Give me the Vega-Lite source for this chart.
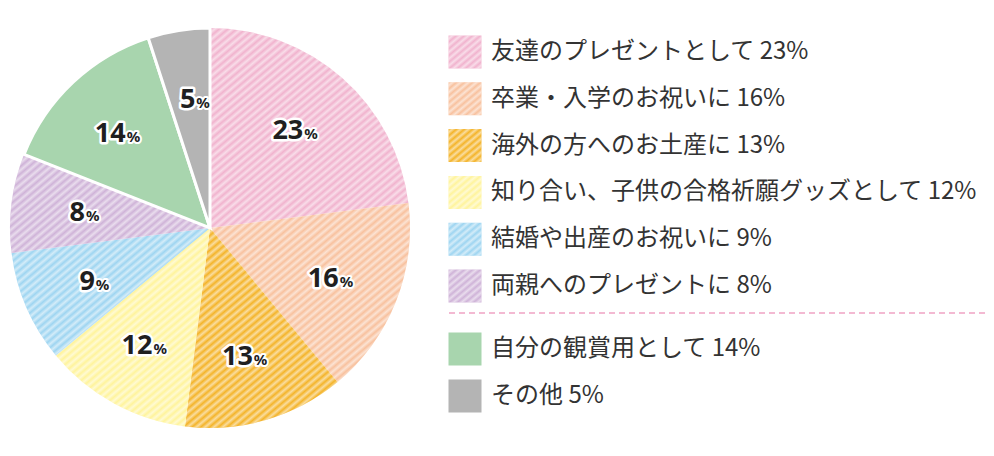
{
  "$schema": "https://vega.github.io/schema/vega-lite/v6.json",
  "padding": 0,
  "background": "white",
  "config": {"view": {"stroke": null}, "font": "Noto Sans CJK JP"},
  "data": {"values": [
    {"idx": 1, "cat": "友達のプレゼントとして", "label": "友達のプレゼントとして 23%", "pct": 23, "group": "gift"},
    {"idx": 2, "cat": "卒業・入学のお祝いに", "label": "卒業・入学のお祝いに 16%", "pct": 16, "group": "gift"},
    {"idx": 3, "cat": "海外の方へのお土産に", "label": "海外の方へのお土産に 13%", "pct": 13, "group": "gift"},
    {"idx": 4, "cat": "知り合い、子供の合格祈願グッズとして", "label": "知り合い、子供の合格祈願グッズとして 12%", "pct": 12, "group": "gift"},
    {"idx": 5, "cat": "結婚や出産のお祝いに", "label": "結婚や出産のお祝いに 9%", "pct": 9, "group": "gift"},
    {"idx": 6, "cat": "両親へのプレゼントに", "label": "両親へのプレゼントに 8%", "pct": 8, "group": "gift"},
    {"idx": 7, "cat": "自分の観賞用として", "label": "自分の観賞用として 14%", "pct": 14, "group": "self"},
    {"idx": 8, "cat": "その他", "label": "その他 5%", "pct": 5, "group": "self"}
  ]},
  "spacing": 28,
  "hconcat": [
    {
      "width": 420,
      "height": 456,
      "layer": [
        {
          "mark": {"type": "arc", "outerRadius": 200, "stroke": "white"},
          "encoding": {
            "theta": {"field": "pct", "type": "quantitative", "stack": true},
            "order": {"field": "idx", "type": "quantitative"},
            "color": {
              "field": "cat", "type": "nominal", "legend": null,
              "scale": {
                "domain": ["友達のプレゼントとして", "卒業・入学のお祝いに", "海外の方へのお土産に", "知り合い、子供の合格祈願グッズとして", "結婚や出産のお祝いに", "両親へのプレゼントに", "自分の観賞用として", "その他"],
                "range": ["#F1B3CE", "#F8C19E", "#F4B42A", "#FFF49C", "#9ED5F1", "#CFB3D8", "#A8D5AE", "#B4B4B4"]
              }
            },
            "strokeWidth": {"condition": {"test": "datum.group === 'self'", "value": 3}, "value": 0}
          }
        },
        {
          "transform": [
            {"filter": "datum.group === 'gift'"},
            {"aggregate": [{"op": "sum", "field": "pct", "as": "tot"}]}
          ],
          "mark": {"type": "arc", "outerRadius": 200, "fill": {"gradient": "linear", "x1": 0, "y1": 0, "x2": 0.906, "y2": 1.079, "stops": [
            {"offset":0,"color":"rgba(255,255,255,0)"},{"offset":0.005,"color":"rgba(255,255,255,0.55)"},
            {"offset":0.01,"color":"rgba(255,255,255,0)"},{"offset":0.015,"color":"rgba(255,255,255,0.55)"},
            {"offset":0.02,"color":"rgba(255,255,255,0)"},{"offset":0.025,"color":"rgba(255,255,255,0.55)"},
            {"offset":0.03,"color":"rgba(255,255,255,0)"},{"offset":0.035,"color":"rgba(255,255,255,0.55)"},
            {"offset":0.04,"color":"rgba(255,255,255,0)"},{"offset":0.045,"color":"rgba(255,255,255,0.55)"},
            {"offset":0.05,"color":"rgba(255,255,255,0)"},{"offset":0.055,"color":"rgba(255,255,255,0.55)"},
            {"offset":0.06,"color":"rgba(255,255,255,0)"},{"offset":0.065,"color":"rgba(255,255,255,0.55)"},
            {"offset":0.07,"color":"rgba(255,255,255,0)"},{"offset":0.075,"color":"rgba(255,255,255,0.55)"},
            {"offset":0.08,"color":"rgba(255,255,255,0)"},{"offset":0.085,"color":"rgba(255,255,255,0.55)"},
            {"offset":0.09,"color":"rgba(255,255,255,0)"},{"offset":0.095,"color":"rgba(255,255,255,0.55)"},
            {"offset":0.1,"color":"rgba(255,255,255,0)"},{"offset":0.105,"color":"rgba(255,255,255,0.55)"},
            {"offset":0.11,"color":"rgba(255,255,255,0)"},{"offset":0.115,"color":"rgba(255,255,255,0.55)"},
            {"offset":0.12,"color":"rgba(255,255,255,0)"},{"offset":0.125,"color":"rgba(255,255,255,0.55)"},
            {"offset":0.13,"color":"rgba(255,255,255,0)"},{"offset":0.135,"color":"rgba(255,255,255,0.55)"},
            {"offset":0.14,"color":"rgba(255,255,255,0)"},{"offset":0.145,"color":"rgba(255,255,255,0.55)"},
            {"offset":0.15,"color":"rgba(255,255,255,0)"},{"offset":0.155,"color":"rgba(255,255,255,0.55)"},
            {"offset":0.16,"color":"rgba(255,255,255,0)"},{"offset":0.165,"color":"rgba(255,255,255,0.55)"},
            {"offset":0.17,"color":"rgba(255,255,255,0)"},{"offset":0.175,"color":"rgba(255,255,255,0.55)"},
            {"offset":0.18,"color":"rgba(255,255,255,0)"},{"offset":0.185,"color":"rgba(255,255,255,0.55)"},
            {"offset":0.19,"color":"rgba(255,255,255,0)"},{"offset":0.195,"color":"rgba(255,255,255,0.55)"},
            {"offset":0.2,"color":"rgba(255,255,255,0)"},{"offset":0.205,"color":"rgba(255,255,255,0.55)"},
            {"offset":0.21,"color":"rgba(255,255,255,0)"},{"offset":0.215,"color":"rgba(255,255,255,0.55)"},
            {"offset":0.22,"color":"rgba(255,255,255,0)"},{"offset":0.225,"color":"rgba(255,255,255,0.55)"},
            {"offset":0.23,"color":"rgba(255,255,255,0)"},{"offset":0.235,"color":"rgba(255,255,255,0.55)"},
            {"offset":0.24,"color":"rgba(255,255,255,0)"},{"offset":0.245,"color":"rgba(255,255,255,0.55)"},
            {"offset":0.25,"color":"rgba(255,255,255,0)"},{"offset":0.255,"color":"rgba(255,255,255,0.55)"},
            {"offset":0.26,"color":"rgba(255,255,255,0)"},{"offset":0.265,"color":"rgba(255,255,255,0.55)"},
            {"offset":0.27,"color":"rgba(255,255,255,0)"},{"offset":0.275,"color":"rgba(255,255,255,0.55)"},
            {"offset":0.28,"color":"rgba(255,255,255,0)"},{"offset":0.285,"color":"rgba(255,255,255,0.55)"},
            {"offset":0.29,"color":"rgba(255,255,255,0)"},{"offset":0.295,"color":"rgba(255,255,255,0.55)"},
            {"offset":0.3,"color":"rgba(255,255,255,0)"},{"offset":0.305,"color":"rgba(255,255,255,0.55)"},
            {"offset":0.31,"color":"rgba(255,255,255,0)"},{"offset":0.315,"color":"rgba(255,255,255,0.55)"},
            {"offset":0.32,"color":"rgba(255,255,255,0)"},{"offset":0.325,"color":"rgba(255,255,255,0.55)"},
            {"offset":0.33,"color":"rgba(255,255,255,0)"},{"offset":0.335,"color":"rgba(255,255,255,0.55)"},
            {"offset":0.34,"color":"rgba(255,255,255,0)"},{"offset":0.345,"color":"rgba(255,255,255,0.55)"},
            {"offset":0.35,"color":"rgba(255,255,255,0)"},{"offset":0.355,"color":"rgba(255,255,255,0.55)"},
            {"offset":0.36,"color":"rgba(255,255,255,0)"},{"offset":0.365,"color":"rgba(255,255,255,0.55)"},
            {"offset":0.37,"color":"rgba(255,255,255,0)"},{"offset":0.375,"color":"rgba(255,255,255,0.55)"},
            {"offset":0.38,"color":"rgba(255,255,255,0)"},{"offset":0.385,"color":"rgba(255,255,255,0.55)"},
            {"offset":0.39,"color":"rgba(255,255,255,0)"},{"offset":0.395,"color":"rgba(255,255,255,0.55)"},
            {"offset":0.4,"color":"rgba(255,255,255,0)"},{"offset":0.405,"color":"rgba(255,255,255,0.55)"},
            {"offset":0.41,"color":"rgba(255,255,255,0)"},{"offset":0.415,"color":"rgba(255,255,255,0.55)"},
            {"offset":0.42,"color":"rgba(255,255,255,0)"},{"offset":0.425,"color":"rgba(255,255,255,0.55)"},
            {"offset":0.43,"color":"rgba(255,255,255,0)"},{"offset":0.435,"color":"rgba(255,255,255,0.55)"},
            {"offset":0.44,"color":"rgba(255,255,255,0)"},{"offset":0.445,"color":"rgba(255,255,255,0.55)"},
            {"offset":0.45,"color":"rgba(255,255,255,0)"},{"offset":0.455,"color":"rgba(255,255,255,0.55)"},
            {"offset":0.46,"color":"rgba(255,255,255,0)"},{"offset":0.465,"color":"rgba(255,255,255,0.55)"},
            {"offset":0.47,"color":"rgba(255,255,255,0)"},{"offset":0.475,"color":"rgba(255,255,255,0.55)"},
            {"offset":0.48,"color":"rgba(255,255,255,0)"},{"offset":0.485,"color":"rgba(255,255,255,0.55)"},
            {"offset":0.49,"color":"rgba(255,255,255,0)"},{"offset":0.495,"color":"rgba(255,255,255,0.55)"},
            {"offset":0.5,"color":"rgba(255,255,255,0)"},{"offset":0.505,"color":"rgba(255,255,255,0.55)"},
            {"offset":0.51,"color":"rgba(255,255,255,0)"},{"offset":0.515,"color":"rgba(255,255,255,0.55)"},
            {"offset":0.52,"color":"rgba(255,255,255,0)"},{"offset":0.525,"color":"rgba(255,255,255,0.55)"},
            {"offset":0.53,"color":"rgba(255,255,255,0)"},{"offset":0.535,"color":"rgba(255,255,255,0.55)"},
            {"offset":0.54,"color":"rgba(255,255,255,0)"},{"offset":0.545,"color":"rgba(255,255,255,0.55)"},
            {"offset":0.55,"color":"rgba(255,255,255,0)"},{"offset":0.555,"color":"rgba(255,255,255,0.55)"},
            {"offset":0.56,"color":"rgba(255,255,255,0)"},{"offset":0.565,"color":"rgba(255,255,255,0.55)"},
            {"offset":0.57,"color":"rgba(255,255,255,0)"},{"offset":0.575,"color":"rgba(255,255,255,0.55)"},
            {"offset":0.58,"color":"rgba(255,255,255,0)"},{"offset":0.585,"color":"rgba(255,255,255,0.55)"},
            {"offset":0.59,"color":"rgba(255,255,255,0)"},{"offset":0.595,"color":"rgba(255,255,255,0.55)"},
            {"offset":0.6,"color":"rgba(255,255,255,0)"},{"offset":0.605,"color":"rgba(255,255,255,0.55)"},
            {"offset":0.61,"color":"rgba(255,255,255,0)"},{"offset":0.615,"color":"rgba(255,255,255,0.55)"},
            {"offset":0.62,"color":"rgba(255,255,255,0)"},{"offset":0.625,"color":"rgba(255,255,255,0.55)"},
            {"offset":0.63,"color":"rgba(255,255,255,0)"},{"offset":0.635,"color":"rgba(255,255,255,0.55)"},
            {"offset":0.64,"color":"rgba(255,255,255,0)"},{"offset":0.645,"color":"rgba(255,255,255,0.55)"},
            {"offset":0.65,"color":"rgba(255,255,255,0)"},{"offset":0.655,"color":"rgba(255,255,255,0.55)"},
            {"offset":0.66,"color":"rgba(255,255,255,0)"},{"offset":0.665,"color":"rgba(255,255,255,0.55)"},
            {"offset":0.67,"color":"rgba(255,255,255,0)"},{"offset":0.675,"color":"rgba(255,255,255,0.55)"},
            {"offset":0.68,"color":"rgba(255,255,255,0)"},{"offset":0.685,"color":"rgba(255,255,255,0.55)"},
            {"offset":0.69,"color":"rgba(255,255,255,0)"},{"offset":0.695,"color":"rgba(255,255,255,0.55)"},
            {"offset":0.7,"color":"rgba(255,255,255,0)"},{"offset":0.705,"color":"rgba(255,255,255,0.55)"},
            {"offset":0.71,"color":"rgba(255,255,255,0)"},{"offset":0.715,"color":"rgba(255,255,255,0.55)"},
            {"offset":0.72,"color":"rgba(255,255,255,0)"},{"offset":0.725,"color":"rgba(255,255,255,0.55)"},
            {"offset":0.73,"color":"rgba(255,255,255,0)"},{"offset":0.735,"color":"rgba(255,255,255,0.55)"},
            {"offset":0.74,"color":"rgba(255,255,255,0)"},{"offset":0.745,"color":"rgba(255,255,255,0.55)"},
            {"offset":0.75,"color":"rgba(255,255,255,0)"},{"offset":0.755,"color":"rgba(255,255,255,0.55)"},
            {"offset":0.76,"color":"rgba(255,255,255,0)"},{"offset":0.765,"color":"rgba(255,255,255,0.55)"},
            {"offset":0.77,"color":"rgba(255,255,255,0)"},{"offset":0.775,"color":"rgba(255,255,255,0.55)"},
            {"offset":0.78,"color":"rgba(255,255,255,0)"},{"offset":0.785,"color":"rgba(255,255,255,0.55)"},
            {"offset":0.79,"color":"rgba(255,255,255,0)"},{"offset":0.795,"color":"rgba(255,255,255,0.55)"},
            {"offset":0.8,"color":"rgba(255,255,255,0)"},{"offset":0.805,"color":"rgba(255,255,255,0.55)"},
            {"offset":0.81,"color":"rgba(255,255,255,0)"},{"offset":0.815,"color":"rgba(255,255,255,0.55)"},
            {"offset":0.82,"color":"rgba(255,255,255,0)"},{"offset":0.825,"color":"rgba(255,255,255,0.55)"},
            {"offset":0.83,"color":"rgba(255,255,255,0)"},{"offset":0.835,"color":"rgba(255,255,255,0.55)"},
            {"offset":0.84,"color":"rgba(255,255,255,0)"},{"offset":0.845,"color":"rgba(255,255,255,0.55)"},
            {"offset":0.85,"color":"rgba(255,255,255,0)"},{"offset":0.855,"color":"rgba(255,255,255,0.55)"},
            {"offset":0.86,"color":"rgba(255,255,255,0)"},{"offset":0.865,"color":"rgba(255,255,255,0.55)"},
            {"offset":0.87,"color":"rgba(255,255,255,0)"},{"offset":0.875,"color":"rgba(255,255,255,0.55)"},
            {"offset":0.88,"color":"rgba(255,255,255,0)"},{"offset":0.885,"color":"rgba(255,255,255,0.55)"},
            {"offset":0.89,"color":"rgba(255,255,255,0)"},{"offset":0.895,"color":"rgba(255,255,255,0.55)"},
            {"offset":0.9,"color":"rgba(255,255,255,0)"},{"offset":0.905,"color":"rgba(255,255,255,0.55)"},
            {"offset":0.91,"color":"rgba(255,255,255,0)"},{"offset":0.915,"color":"rgba(255,255,255,0.55)"},
            {"offset":0.92,"color":"rgba(255,255,255,0)"},{"offset":0.925,"color":"rgba(255,255,255,0.55)"},
            {"offset":0.93,"color":"rgba(255,255,255,0)"},{"offset":0.935,"color":"rgba(255,255,255,0.55)"},
            {"offset":0.94,"color":"rgba(255,255,255,0)"},{"offset":0.945,"color":"rgba(255,255,255,0.55)"},
            {"offset":0.95,"color":"rgba(255,255,255,0)"},{"offset":0.955,"color":"rgba(255,255,255,0.55)"},
            {"offset":0.96,"color":"rgba(255,255,255,0)"},{"offset":0.965,"color":"rgba(255,255,255,0.55)"},
            {"offset":0.97,"color":"rgba(255,255,255,0)"},{"offset":0.975,"color":"rgba(255,255,255,0.55)"},
            {"offset":0.98,"color":"rgba(255,255,255,0)"},{"offset":0.985,"color":"rgba(255,255,255,0.55)"},
            {"offset":0.99,"color":"rgba(255,255,255,0)"},{"offset":0.995,"color":"rgba(255,255,255,0.55)"},
            {"offset":1,"color":"rgba(255,255,255,0)"}
          ]}},
          "encoding": {
            "theta": {"field": "tot", "type": "quantitative", "stack": true}
          }
        },
        {
          "mark": {"type": "text", "radius": 132, "font": "Noto Sans", "fontSize": 27, "fontWeight": "bold", "align": "right", "baseline": "alphabetic", "dx": 6, "dy": 10, "stroke": "white", "strokeWidth": 5, "strokeJoin": "round", "fill": "white"},
          "encoding": {
            "theta": {"field": "pct", "type": "quantitative", "stack": true},
            "order": {"field": "idx", "type": "quantitative"},
            "text": {"field": "pct", "type": "quantitative"}
          }
        },
        {
          "mark": {"type": "text", "radius": 132, "font": "Noto Sans", "fontSize": 15, "fontWeight": "bold", "align": "left", "baseline": "alphabetic", "dx": 7, "dy": 10, "stroke": "white", "strokeWidth": 4, "strokeJoin": "round", "fill": "white", "text": "%"},
          "encoding": {
            "theta": {"field": "pct", "type": "quantitative", "stack": true},
            "order": {"field": "idx", "type": "quantitative"}
          }
        },
        {
          "mark": {"type": "text", "radius": 132, "font": "Noto Sans", "fontSize": 27, "fontWeight": "bold", "align": "right", "baseline": "alphabetic", "dx": 6, "dy": 10, "fill": "#1f1f1f"},
          "encoding": {
            "theta": {"field": "pct", "type": "quantitative", "stack": true},
            "order": {"field": "idx", "type": "quantitative"},
            "text": {"field": "pct", "type": "quantitative"}
          }
        },
        {
          "mark": {"type": "text", "radius": 132, "font": "Noto Sans", "fontSize": 15, "fontWeight": "bold", "align": "left", "baseline": "alphabetic", "dx": 7, "dy": 10, "fill": "#1f1f1f", "text": "%"},
          "encoding": {
            "theta": {"field": "pct", "type": "quantitative", "stack": true},
            "order": {"field": "idx", "type": "quantitative"}
          }
        }
      ]
    },
    {
      "spacing": 0,
      "vconcat": [
        {
          "width": 530,
          "height": 313,
          "transform": [{"filter": "datum.group === 'gift'"}],
          "layer": [
            {
              "mark": {"type": "square", "size": 1089, "filled": true, "opacity": 1},
              "encoding": {
                "x": {"datum": 0, "type": "quantitative", "scale": {"domain": [0, 530]}, "axis": null},
                "y": {"field": "label", "type": "nominal", "sort": {"field": "idx"}, "scale": {"type": "point", "padding": 0, "range": [52, 286]}, "axis": null},
                "color": {"field": "cat", "type": "nominal", "legend": null}
              }
            },
            {
              "mark": {"type": "square", "size": 1089, "opacity": 1, "fill": {"gradient": "linear", "x1": 0, "y1": 0, "x2": 0.906, "y2": 1.079, "stops": [
                {"offset":0,"color":"rgba(255,255,255,0)"},{"offset":0.0556,"color":"rgba(255,255,255,0.55)"},
                {"offset":0.1111,"color":"rgba(255,255,255,0)"},{"offset":0.1667,"color":"rgba(255,255,255,0.55)"},
                {"offset":0.2222,"color":"rgba(255,255,255,0)"},{"offset":0.2778,"color":"rgba(255,255,255,0.55)"},
                {"offset":0.3333,"color":"rgba(255,255,255,0)"},{"offset":0.3889,"color":"rgba(255,255,255,0.55)"},
                {"offset":0.4444,"color":"rgba(255,255,255,0)"},{"offset":0.5,"color":"rgba(255,255,255,0.55)"},
                {"offset":0.5556,"color":"rgba(255,255,255,0)"},{"offset":0.6111,"color":"rgba(255,255,255,0.55)"},
                {"offset":0.6667,"color":"rgba(255,255,255,0)"},{"offset":0.7222,"color":"rgba(255,255,255,0.55)"},
                {"offset":0.7778,"color":"rgba(255,255,255,0)"},{"offset":0.8333,"color":"rgba(255,255,255,0.55)"},
                {"offset":0.8889,"color":"rgba(255,255,255,0)"},{"offset":0.9444,"color":"rgba(255,255,255,0.55)"},
                {"offset":1,"color":"rgba(255,255,255,0)"}
              ]}},
              "encoding": {
                "x": {"datum": 0, "type": "quantitative", "scale": {"domain": [0, 530]}, "axis": null},
                "y": {"field": "label", "type": "nominal", "sort": {"field": "idx"}, "scale": {"type": "point", "padding": 0, "range": [52, 286]}, "axis": null}
              }
            },
            {
              "mark": {"type": "text", "align": "left", "baseline": "middle", "dx": 26, "fontSize": 24, "color": "#333333"},
              "encoding": {
                "x": {"datum": 0, "type": "quantitative", "scale": {"domain": [0, 530]}, "axis": null},
                "y": {"field": "label", "type": "nominal", "sort": {"field": "idx"}, "scale": {"type": "point", "padding": 0, "range": [52, 286]}, "axis": null},
                "text": {"field": "label"}
              }
            },
            {
              "transform": [{"filter": "datum.idx === 6"}],
              "mark": {"type": "rule", "strokeDash": [6, 4], "color": "#EFA3C3", "strokeWidth": 1.5, "yOffset": 27},
              "encoding": {
                "x": {"datum": -16, "type": "quantitative", "scale": {"domain": [0, 530]}, "axis": null},
                "x2": {"datum": 522},
                "y": {"field": "label", "type": "nominal", "sort": {"field": "idx"}, "scale": {"type": "point", "padding": 0, "range": [52, 286]}, "axis": null}
              }
            }
          ]
        },
        {
          "width": 530,
          "height": 143,
          "transform": [{"filter": "datum.group === 'self'"}],
          "layer": [
            {
              "mark": {"type": "square", "size": 1089, "filled": true, "opacity": 1},
              "encoding": {
                "x": {"datum": 0, "type": "quantitative", "scale": {"domain": [0, 530]}, "axis": null},
                "y": {"field": "label", "type": "nominal", "sort": {"field": "idx"}, "scale": {"type": "point", "padding": 0, "range": [35, 82]}, "axis": null},
                "color": {"field": "cat", "type": "nominal", "legend": null}
              }
            },
            {
              "mark": {"type": "text", "align": "left", "baseline": "middle", "dx": 26, "fontSize": 24, "color": "#333333"},
              "encoding": {
                "x": {"datum": 0, "type": "quantitative", "scale": {"domain": [0, 530]}, "axis": null},
                "y": {"field": "label", "type": "nominal", "sort": {"field": "idx"}, "scale": {"type": "point", "padding": 0, "range": [35, 82]}, "axis": null},
                "text": {"field": "label"}
              }
            }
          ]
        }
      ]
    }
  ]
}
